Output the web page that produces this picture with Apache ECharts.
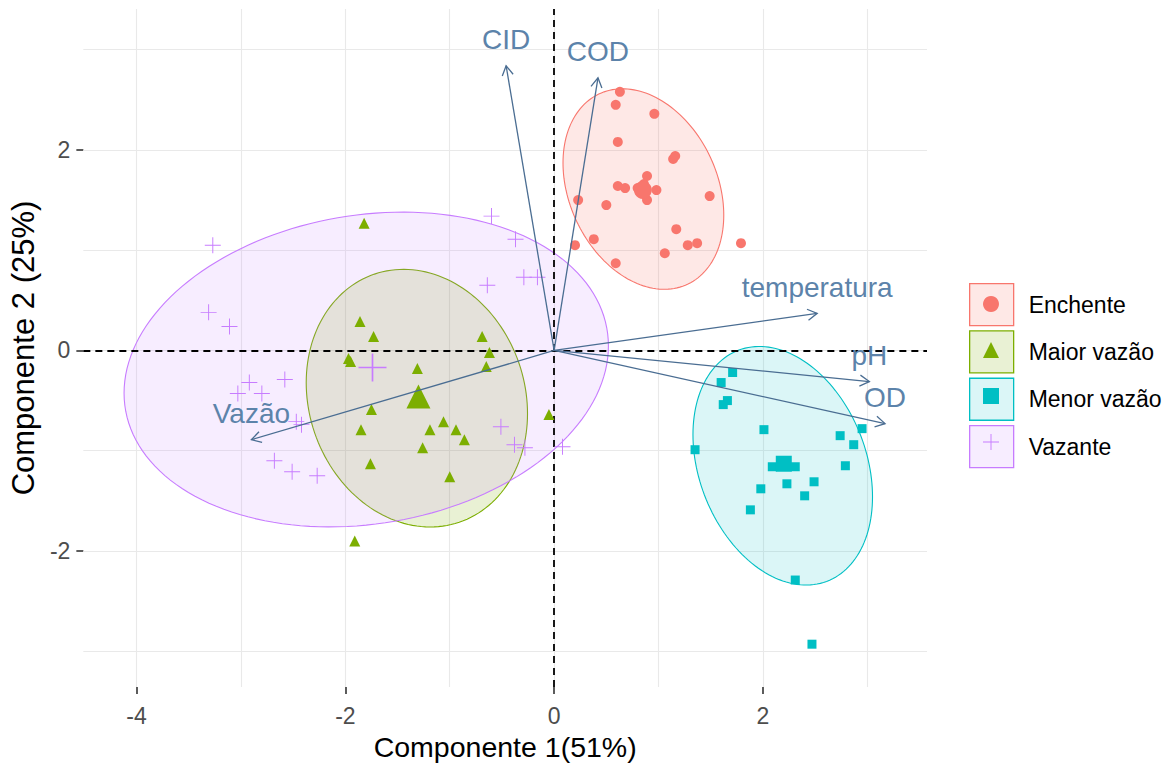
<!DOCTYPE html>
<html>
<head>
<meta charset="utf-8">
<script src="https://cdn.jsdelivr.net/npm/echarts@6/dist/echarts.min.js"></script>
<style>
html,body{margin:0;padding:0;background:#ffffff;}
#chart{width:1171px;height:766px;}
</style>
</head>
<body>
<div id="chart"></div>
<script>
// ---------- data ----------
const groupNames = ['Enchente', 'Maior vazão', 'Menor vazão', 'Vazante'];

const enchentePts = [[0.63,2.58],[0.59,2.45],[0.96,2.36],[0.61,2.08],[1.14,1.91],[1.16,1.94],[0.89,1.74],
  [0.61,1.64],[0.68,1.62],[0.98,1.60],[0.89,1.50],[1.49,1.54],[0.23,1.50],[0.50,1.45],[1.17,1.21],
  [0.38,1.11],[0.20,1.05],[1.28,1.05],[1.37,1.07],[1.79,1.07],[1.06,0.97],[0.59,0.87],[0.80,1.62],[0.86,1.66]];
const enchenteMean = [0.85, 1.60];

const maiorVazaoPts = [[-1.82,1.27],[-1.86,0.29],[-1.73,0.14],[-1.95,-0.11],[-1.97,-0.08],[-1.31,-0.18],
  [-1.75,-0.59],[-1.85,-0.79],[-1.19,-0.79],[-1.06,-0.71],[-0.94,-0.79],[-0.86,-0.89],[-1.26,-0.97],
  [-1.76,-1.13],[-1.00,-1.26],[-1.91,-1.90],[-0.69,0.14],[-0.62,-0.02],[-0.65,-0.16],[-0.05,-0.64]];
const maiorVazaoMean = [-1.30, -0.46];

const menorVazaoPts = [[1.71,-0.22],[1.60,-0.32],[1.66,-0.50],[1.62,-0.54],[2.01,-0.79],[1.35,-0.99],
  [2.95,-0.78],[2.74,-0.85],[2.87,-0.94],[2.79,-1.15],[2.09,-1.16],[2.31,-1.16],[2.23,-1.33],[2.49,-1.31],
  [1.98,-1.38],[2.40,-1.45],[1.88,-1.59],[2.31,-2.29],[2.47,-2.93]];
const menorVazaoMean = [2.20, -1.13];

const vazantePts = [[-3.27,1.05],[-3.31,0.38],[-3.11,0.24],[-2.92,-0.32],[-2.58,-0.29],[-3.03,-0.43],
  [-2.80,-0.43],[-2.47,-0.71],[-2.42,-0.74],[-2.68,-1.10],[-2.51,-1.21],[-2.27,-1.25],[-0.60,1.34],
  [-0.37,1.11],[-0.64,0.65],[-0.29,0.73],[-0.16,0.73],[-0.51,-0.76],[-0.38,-0.94],[-0.28,-0.97],[0.08,-0.96]];
const vazanteMean = [-1.74, -0.17];

// confidence ellipses: [centre x, centre y, half-width x, half-height y, correlation]
const ellipseParams = [
  [0.855, 1.61, 0.77, 1.00, -0.26],
  [-1.315, -0.476, 1.06, 1.285, -0.12],
  [2.19, -1.15, 0.86, 1.19, -0.26],
  [-1.80, -0.19, 2.32, 1.57, 0.15]
];

// variable arrows (loadings)
const varNames = ['CID', 'COD', 'temperatura', 'pH', 'OD', 'Vazão'];
const varLoadings = [[-0.46,2.84],[0.42,2.72],[2.52,0.37],[3.02,-0.31],[3.17,-0.73],[-2.90,-0.89]];

// ticks
const xTickVals = [-4, -2, 0, 2];
const yTickVals = [-2, 0, 2];
const xGridVals = [-4, -3, -2, -1, 0, 1, 2, 3];
const yGridVals = [-3, -2, -1, 0, 1, 2, 3];

// ---------- styles ----------
const FONT = "'Liberation Sans', Arial, sans-serif";
const colors = ['#F8766D', '#7CAE00', '#00BFC4', '#C77CFF'];
const fills = ['rgba(248,118,109,0.17)', 'rgba(124,174,0,0.17)', 'rgba(0,191,196,0.14)', 'rgba(199,124,255,0.14)'];
const PLUS = 'path://M-0.6,-10L0.6,-10L0.6,-0.6L10,-0.6L10,0.6L0.6,0.6L0.6,10L-0.6,10L-0.6,0.6L-10,0.6L-10,-0.6L-0.6,-0.6Z';
const symbols = ['circle', 'triangle', 'rect', PLUS];
const ptSizes = [10, 11, 9, 16];
const meanSizes = [18, 24, 16, 28];
const groupPts = [enchentePts, maiorVazaoPts, menorVazaoPts, vazantePts];
const groupMeans = [enchenteMean, maiorVazaoMean, menorVazaoMean, vazanteMean];
const arrowColor = '#4A6D92';
const varLabelColor = '#5C83AA';

const chart = echarts.init(document.getElementById('chart'), null, {renderer: 'svg'});

const series = [];

// grid lines
series.push({
  type: 'line', name: 'grid', data: [], silent: true, z: 1,
  markLine: {
    silent: true, z: 1, symbol: ['none', 'none'], label: {show: false}, animation: false,
    lineStyle: {color: '#E9E9E9', type: 'solid', width: 1.1},
    emphasis: {disabled: true},
    data: xGridVals.map(v => ({xAxis: v})).concat(yGridVals.map(v => ({yAxis: v})))
  }
});

// ellipses
series.push({
  type: 'custom', name: 'ellipses', z: 2, silent: true,
  data: ellipseParams,
  renderItem: function (params, api) {
    const e = ellipseParams[params.dataIndex];
    const s = Math.sqrt(1 - e[4] * e[4]);
    const pts = [];
    const N = 160;
    for (let i = 0; i < N; i++) {
      const t = i / N * 2 * Math.PI;
      pts.push(api.coord([e[0] + e[2] * Math.cos(t), e[1] + e[3] * (e[4] * Math.cos(t) + s * Math.sin(t))]));
    }
    return {type: 'polygon', shape: {points: pts},
      style: {fill: fills[params.dataIndex], stroke: colors[params.dataIndex], lineWidth: 1.1}};
  }
});

// dashed zero lines
series.push({
  type: 'line', name: 'zero', data: [], silent: true, z: 3,
  markLine: {
    silent: true, z: 3, symbol: ['none', 'none'], label: {show: false}, animation: false,
    lineStyle: {color: '#000', type: [7, 5], width: 1.8},
    emphasis: {disabled: true},
    data: [{xAxis: 0}, {yAxis: 0}]
  }
});

// points
groupNames.forEach(function (name, i) {
  series.push({
    type: 'scatter', name: name, z: 4, symbol: symbols[i], symbolSize: ptSizes[i],
    itemStyle: {color: colors[i], opacity: 1},
    emphasis: {disabled: true},
    data: groupPts[i].map(p => p.slice()).concat([{value: groupMeans[i].slice(), symbolSize: meanSizes[i]}])
  });
});

// variable arrows
series.push({
  type: 'custom', name: 'variables', z: 5, silent: true,
  data: varLoadings,
  renderItem: function (params, api) {
    const i = params.dataIndex;
    const p0 = api.coord([0, 0]);
    const p1 = api.coord([api.value(0), api.value(1)]);
    const a = Math.atan2(p1[1] - p0[1], p1[0] - p0[0]);
    const L = 11, w = Math.PI / 6;
    const h1 = [p1[0] - L * Math.cos(a - w), p1[1] - L * Math.sin(a - w)];
    const h2 = [p1[0] - L * Math.cos(a + w), p1[1] - L * Math.sin(a + w)];
    return {
      type: 'group',
      children: [
        {type: 'line', shape: {x1: p0[0], y1: p0[1], x2: p1[0], y2: p1[1]}, style: {stroke: arrowColor, lineWidth: 1.3}},
        {type: 'polyline', shape: {points: [h1, p1, h2]}, style: {stroke: arrowColor, lineWidth: 1.3, fill: null}},
        {type: 'text', x: p1[0], y: p1[1] - 26,
          style: {text: varNames[i], fill: varLabelColor, fontSize: 28, fontFamily: FONT, align: 'center', verticalAlign: 'middle'}}
      ]
    };
  }
});

const option = {
  animation: false,
  backgroundColor: '#ffffff',
  grid: {left: 79, right: 244, top: 9, bottom: 79, containLabel: false},
  xAxis: {
    type: 'value', min: -4.51, max: 3.572,
    splitLine: {show: false},
    axisLine: {show: true, onZero: false, lineStyle: {color: 'rgba(0,0,0,0)'}},
    axisTick: {show: true, customValues: xTickVals, length: 7, lineStyle: {color: '#333', width: 1.6}},
    axisLabel: {customValues: xTickVals, fontSize: 23, color: '#4D4D4D', margin: 17, fontFamily: FONT},
    name: 'Componente 1(51%)', nameLocation: 'middle', nameGap: 45,
    nameTextStyle: {fontSize: 28.5, color: '#000', fontFamily: FONT}
  },
  yAxis: {
    type: 'value', min: -3.357, max: 3.406,
    splitLine: {show: false},
    axisLine: {show: true, onZero: false, lineStyle: {color: 'rgba(0,0,0,0)'}},
    axisTick: {show: true, customValues: yTickVals, length: 7, lineStyle: {color: '#333', width: 1.6}},
    axisLabel: {customValues: yTickVals, fontSize: 23, color: '#4D4D4D', margin: 13, fontFamily: FONT},
    name: 'Componente 2 (25%)', nameLocation: 'middle', nameGap: 37,
    nameTextStyle: {fontSize: 31, color: '#000', fontFamily: FONT}
  },
  legend: [
    {
      orient: 'vertical', left: 969, top: 283, padding: 0,
      itemWidth: 44, itemHeight: 42, itemGap: 4, symbolKeepAspect: false,
      selectedMode: false,
      textStyle: {fontSize: 23, color: '#000', fontFamily: FONT, padding: [0, 0, 0, 10]},
      data: groupNames.map((n, i) => ({name: n, icon: 'rect',
        itemStyle: {color: fills[i], borderColor: colors[i], borderWidth: 1.3}}))
    },
    {
      orient: 'vertical', left: 983, top: 296, padding: 0,
      itemWidth: 16, itemHeight: 16, itemGap: 30,
      selectedMode: false,
      formatter: function () { return ''; },
      textStyle: {fontSize: 10, fontFamily: FONT},
      data: groupNames.slice()
    }
  ],
  series: series
};

chart.setOption(option);
</script>
</body>
</html>
